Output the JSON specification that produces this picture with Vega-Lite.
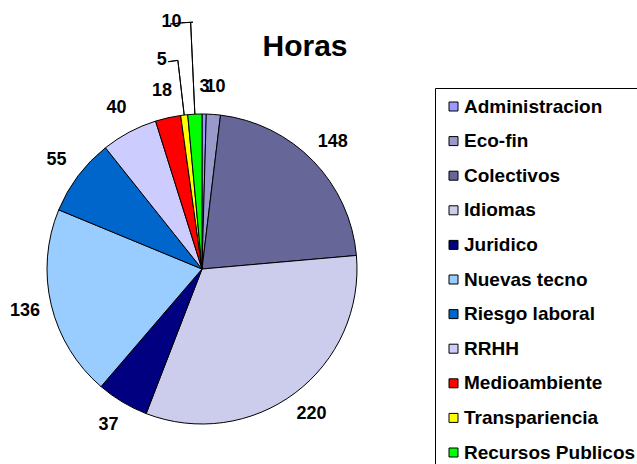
{
  "$schema": "https://vega.github.io/schema/vega-lite/v6.json",
  "width": 310,
  "height": 310,
  "autosize": {"type": "none"},
  "padding": {"left": 47, "top": 114, "right": 280, "bottom": 40},
  "background": "white",
  "title": {"text": "Horas", "font": "Liberation Sans", "fontSize": 30, "fontWeight": "bold", "color": "black", "anchor": "middle", "frame": "group", "dx": 103, "offset": -49},
  "data": {"values": [
    {"cat": "Administracion", "horas": 3, "ord": 1},
    {"cat": "Eco-fin", "horas": 10, "ord": 2},
    {"cat": "Colectivos", "horas": 148, "ord": 3},
    {"cat": "Idiomas", "horas": 220, "ord": 4},
    {"cat": "Juridico", "horas": 37, "ord": 5},
    {"cat": "Nuevas tecno", "horas": 136, "ord": 6},
    {"cat": "Riesgo laboral", "horas": 55, "ord": 7},
    {"cat": "RRHH", "horas": 40, "ord": 8},
    {"cat": "Medioambiente", "horas": 18, "ord": 9},
    {"cat": "Transpariencia", "horas": 5, "ord": 10},
    {"cat": "Recursos Publicos", "horas": 10, "ord": 11}
  ]},
  "encoding": {
    "theta": {"field": "horas", "type": "quantitative", "stack": true},
    "order": {"field": "ord", "type": "quantitative"}
  },
  "layer": [
    {
      "mark": {"type": "arc", "outerRadius": 155, "stroke": "black", "strokeWidth": 1},
      "encoding": {
        "color": {
          "field": "cat", "type": "nominal",
          "scale": {
            "domain": ["Administracion", "Eco-fin", "Colectivos", "Idiomas", "Juridico", "Nuevas tecno", "Riesgo laboral", "RRHH", "Medioambiente", "Transpariencia", "Recursos Publicos"],
            "range": ["#9999FF", "#9999CC", "#666699", "#CCCCEC", "#000080", "#99CCFF", "#0066CC", "#CCCCFF", "#FF0000", "#FFFF00", "#00FF00"]
          },
          "legend": {
            "title": null, "orient": "none", "legendX": 388, "legendY": -26,
            "symbolType": "square", "symbolSize": 81, "symbolStrokeColor": "black", "symbolStrokeWidth": 1,
            "labelFont": "Liberation Sans", "labelFontSize": 19, "labelFontWeight": "bold", "labelColor": "black",
            "labelLimit": 300, "labelOffset": 1, "rowPadding": 14.6,
            "strokeColor": "black", "fillColor": "white", "padding": 9
          }
        }
      }
    },
    {
      "mark": {"type": "text", "radius": 182, "font": "Liberation Sans", "fontSize": 18, "fontWeight": "bold", "color": "black"},
      "encoding": {
        "text": {"field": "horas", "type": "quantitative"},
        "opacity": {"condition": {"test": "datum.cat === 'Transpariencia' || datum.cat === 'Recursos Publicos'", "value": 0}, "value": 1}
      }
    },
    {
      "mark": {"type": "text", "radius": 210, "dx": -16, "font": "Liberation Sans", "fontSize": 18, "fontWeight": "bold", "color": "black"},
      "encoding": {
        "text": {"field": "horas", "type": "quantitative"},
        "opacity": {"condition": {"test": "datum.cat === 'Transpariencia'", "value": 1}, "value": 0}
      }
    },
    {
      "mark": {"type": "text", "radius": 247, "dx": -19, "font": "Liberation Sans", "fontSize": 18, "fontWeight": "bold", "color": "black"},
      "encoding": {
        "text": {"field": "horas", "type": "quantitative"},
        "opacity": {"condition": {"test": "datum.cat === 'Recursos Publicos'", "value": 1}, "value": 0}
      }
    },
    {
      "mark": {"type": "arc", "innerRadius": 155, "outerRadius": 210, "padAngle": 0.3, "fill": "white", "fillOpacity": 0, "strokeWidth": 1},
      "encoding": {
        "stroke": {"condition": {"test": "datum.cat === 'Transpariencia'", "value": "black"}, "value": "transparent"}
      }
    },
    {
      "mark": {"type": "arc", "innerRadius": 155, "outerRadius": 247, "padAngle": 0.3, "fill": "white", "fillOpacity": 0, "strokeWidth": 1},
      "encoding": {
        "stroke": {"condition": {"test": "datum.cat === 'Recursos Publicos'", "value": "black"}, "value": "transparent"}
      }
    },
    {
      "mark": {"type": "arc", "innerRadius": 210, "outerRadius": 210, "thetaOffset": -0.023, "theta2Offset": -0.019, "fill": "white", "fillOpacity": 0, "strokeWidth": 1},
      "encoding": {
        "stroke": {"condition": {"test": "datum.cat === 'Transpariencia'", "value": "black"}, "value": "transparent"}
      }
    },
    {
      "mark": {"type": "arc", "innerRadius": 247, "outerRadius": 247, "thetaOffset": -0.0365, "theta2Offset": 0.0103, "fill": "white", "fillOpacity": 0, "strokeWidth": 1},
      "encoding": {
        "stroke": {"condition": {"test": "datum.cat === 'Recursos Publicos'", "value": "black"}, "value": "transparent"}
      }
    }
  ],
  "config": {"view": {"stroke": null}}
}
